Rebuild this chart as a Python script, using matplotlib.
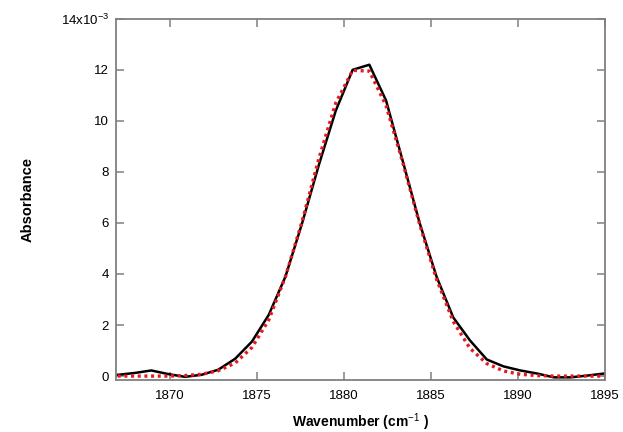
"""Absorbance band near 1880 cm^-1: measured spectrum and fitted profile."""

import matplotlib

matplotlib.use("Agg")
import matplotlib.pyplot as plt

# wavenumber grid (cm^-1)
wavenumber = [
    1867.00, 1867.96, 1868.93, 1869.89, 1870.86, 1871.82, 1872.78, 1873.75,
    1874.71, 1875.68, 1876.64, 1877.60, 1878.57, 1879.53, 1880.50, 1881.46,
    1882.42, 1883.39, 1884.35, 1885.32, 1886.28, 1887.24, 1888.21, 1889.17,
    1890.14, 1891.10, 1892.06, 1893.03, 1893.99, 1894.96,
]
# measured absorbance (x10^-3)
measured = [
    0.05, 0.12, 0.22, 0.08, -0.03, 0.05, 0.25, 0.68,
    1.35, 2.40, 3.90, 6.00, 8.30, 10.40, 12.00, 12.20,
    10.80, 8.40, 6.00, 3.90, 2.30, 1.40, 0.65, 0.38,
    0.22, 0.10, -0.05, -0.05, 0.02, 0.10,
]
# fitted absorbance (x10^-3)
fitted = [
    0.00, 0.00, 0.00, 0.00, 0.02, 0.07, 0.21, 0.51,
    1.12, 2.20, 3.90, 6.07, 8.55, 10.70, 11.98, 11.95,
    10.60, 8.35, 5.95, 3.80, 2.14, 1.09, 0.49, 0.20,
    0.07, 0.02, 0.00, 0.00, 0.00, 0.00,
]

x_ticks = [1870, 1875, 1880, 1885, 1890, 1895]
y_ticks = [0, 2, 4, 6, 8, 10, 12, 14]
y_tick_labels = ["0", "2", "4", "6", "8", "10", "12", "14x10$^{-3}$"]

plt.rcParams["font.family"] = ["Liberation Sans", "DejaVu Sans"]
plt.rcParams["mathtext.fontset"] = "custom"
plt.rcParams["mathtext.rm"] = "Liberation Sans"

fig = plt.figure(figsize=(6.23, 4.32), dpi=100)
ax = fig.add_axes([0.1862, 0.120, 0.7848, 0.8365])

ax.plot(wavenumber, measured, color="black", linewidth=1.8, zorder=2)
ax.plot(wavenumber, fitted, color="#e8191c", linewidth=2.4,
        linestyle=(0, (0.9, 1.1)), zorder=3)

ax.set_xlim(1866.9, 1895.0)
ax.set_ylim(-0.16, 14.0)
ax.set_xticks(x_ticks)
ax.set_yticks(y_ticks)
ax.set_yticklabels(y_tick_labels)

for spine in ax.spines.values():
    spine.set_color("#808080")
    spine.set_linewidth(1.3)
ax.tick_params(direction="in", top=True, right=True, length=6, width=1.1,
               color="#808080", labelsize=9.5, labeltop=False,
               labelright=False)
ax.tick_params(axis="x", pad=7)
ax.tick_params(axis="y", pad=5)

ax.set_xlabel("Wavenumber (cm$^{-1}$ )", fontsize=10, fontweight="bold",
              labelpad=7)
ax.set_ylabel("Absorbance", fontsize=10.5, fontweight="bold", labelpad=19)

fig.savefig("out.png", dpi=100)
plt.close(fig)
